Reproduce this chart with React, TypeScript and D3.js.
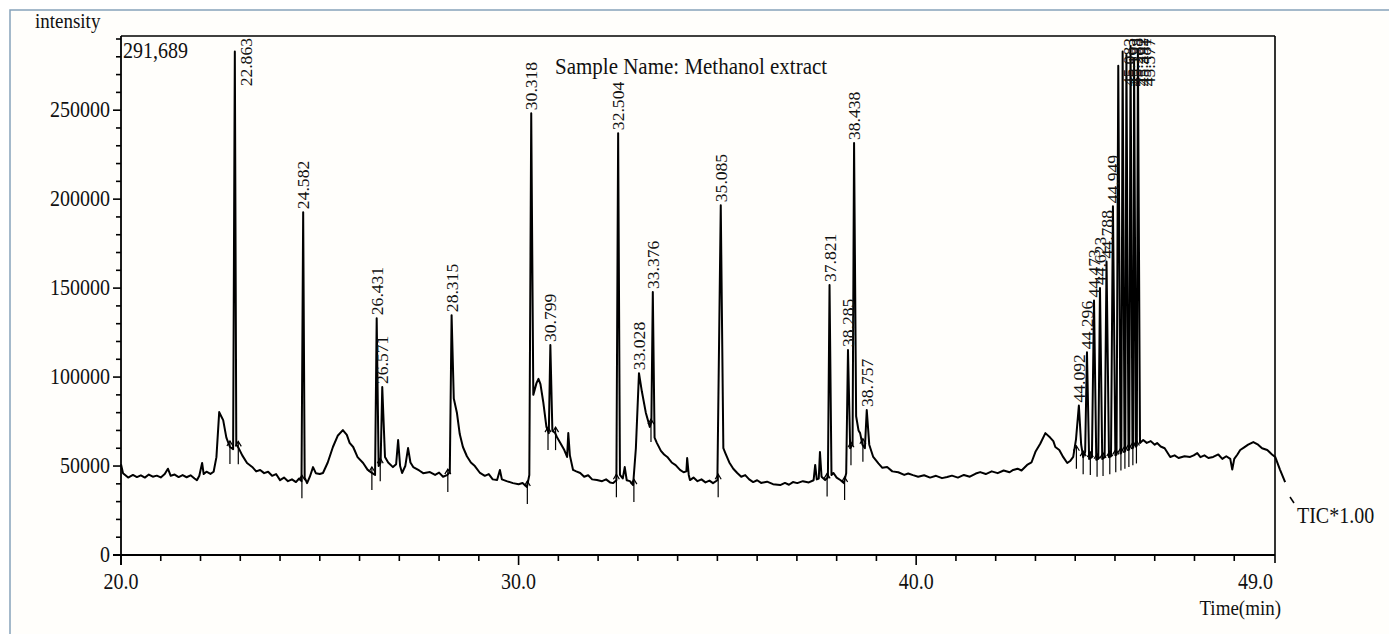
import React from "react";
import * as d3 from "d3";

// ---- Data ----
const yMax = 291689;
const xDomain: [number, number] = [20, 49];
const yTickMajor = [0, 50000, 100000, 150000, 200000, 250000];
const xTickMajor = [20, 30, 40];
const xTickLabels = ["20.0", "30.0", "40.0", "49.0"];
const xTickLabelValues = [20, 30, 40, 49];

// baseline / shoulder points of the TIC trace [time(min), intensity]
const baselineTrace: [number, number][] = [
  [20.0, 51000], [20.05, 46000], [20.18, 43500], [20.3, 45000], [20.4, 43800], [20.5, 44800],
  [20.6, 43500], [20.7, 45200], [20.8, 44000], [20.9, 44600], [21.0, 43600], [21.1, 45500],
  [21.18, 48500], [21.25, 44500], [21.35, 45200], [21.45, 43800], [21.55, 44900], [21.65, 43700],
  [21.75, 44800], [21.85, 43000], [21.91, 42000], [21.97, 44500], [22.04, 51700], [22.08, 45500],
  [22.15, 46800], [22.25, 45600], [22.33, 46800], [22.4, 55000], [22.47, 80300], [22.52, 78000],
  [22.57, 75800], [22.65, 66000], [22.74, 60700], [22.82, 59500],
  [22.9, 62000], [22.95, 60500], [23.05, 56000], [23.17, 51700], [23.3, 49500], [23.4, 47000],
  [23.5, 47800], [23.6, 46000], [23.7, 46800], [23.8, 44500], [23.9, 45500], [24.0, 42100],
  [24.1, 43500], [24.2, 41500], [24.3, 42500], [24.4, 41000], [24.48, 43000], [24.54, 41500],
  [24.62, 43500], [24.68, 40400], [24.75, 44000], [24.83, 49400], [24.9, 46000], [25.0, 45500],
  [25.08, 46100], [25.2, 52000], [25.33, 60700], [25.45, 67000], [25.58, 70200], [25.68, 67500],
  [25.75, 63000], [25.84, 60700], [25.95, 55000], [26.09, 51700], [26.2, 48000], [26.31, 46100],
  [26.39, 45000], [26.48, 50000], [26.53, 52000], [26.64, 55100], [26.72, 52000], [26.84, 49400],
  [26.92, 51000], [26.97, 64600], [27.02, 50000], [27.07, 46100], [27.15, 50000], [27.22, 60100],
  [27.28, 52000], [27.35, 49400], [27.5, 47500], [27.6, 46000], [27.77, 46600], [27.9, 45000],
  [28.0, 46300], [28.1, 44000], [28.2, 44900], [28.27, 46500],
  [28.37, 88000], [28.45, 79800], [28.52, 68000], [28.6, 60700], [28.7, 55500], [28.8, 52000],
  [28.9, 50000], [29.03, 46100], [29.15, 44500], [29.25, 45500], [29.35, 42500], [29.46, 42100],
  [29.53, 47800], [29.58, 42500], [29.7, 41500], [29.86, 40400], [30.0, 39800], [30.1, 40500],
  [30.21, 38200], [30.27, 45000],
  [30.37, 90000], [30.45, 96600], [30.5, 99000], [30.55, 96000], [30.62, 86000], [30.7, 72000],
  [30.76, 68500], [30.85, 70000], [30.92, 68500], [30.97, 66000], [31.05, 63000], [31.15, 59000],
  [31.22, 55100], [31.25, 68500], [31.29, 56000], [31.37, 47800], [31.45, 47000], [31.55, 46100],
  [31.65, 44000], [31.75, 44800], [31.85, 42500], [31.97, 42100], [32.1, 41500], [32.2, 42500],
  [32.3, 40800], [32.38, 40400], [32.46, 42000],
  [32.55, 45000], [32.62, 43000], [32.67, 49400], [32.72, 42000], [32.8, 41500], [32.88, 39300],
  [32.95, 60000], [33.1, 92000], [33.2, 80000], [33.3, 72000], [33.34, 75000],
  [33.42, 66000], [33.48, 62900], [33.58, 58500], [33.66, 56500], [33.74, 55100], [33.85, 52000],
  [33.95, 50500], [34.06, 47800], [34.15, 46500], [34.22, 47000], [34.24, 54500], [34.28, 45000],
  [34.31, 42100], [34.4, 43500], [34.5, 41500], [34.6, 42500], [34.7, 40800], [34.8, 41800],
  [34.89, 40400], [35.0, 42000],
  [35.15, 60000], [35.2, 57300], [35.3, 52000], [35.4, 48500], [35.5, 46100], [35.6, 44000],
  [35.7, 44900], [35.8, 42500], [35.9, 41000], [36.0, 42000], [36.1, 40500], [36.25, 41200],
  [36.4, 39800], [36.58, 39300], [36.7, 40500], [36.8, 39500], [36.9, 41000], [37.01, 40400],
  [37.15, 41500], [37.3, 40800], [37.42, 42000], [37.46, 50600], [37.5, 42500], [37.55, 43000],
  [37.58, 57900], [37.62, 44000], [37.71, 42100], [37.78, 43500],
  [37.87, 45000], [37.92, 46100], [38.0, 43500], [38.1, 42000], [38.18, 40400], [38.24, 46000],
  [38.34, 60000], [38.4, 62000],
  [38.49, 78000], [38.55, 70000], [38.59, 68500], [38.65, 62000], [38.71, 60000],
  [38.82, 62000], [38.92, 55100], [39.05, 51500], [39.15, 49000], [39.27, 49400], [39.4, 47000],
  [39.55, 46500], [39.7, 45000], [39.8, 45800], [39.92, 44900], [40.05, 44000], [40.2, 44800],
  [40.35, 43500], [40.5, 44500], [40.65, 43200], [40.78, 43800], [40.9, 44600], [41.05, 43500],
  [41.2, 45000], [41.35, 44000], [41.5, 45800], [41.61, 46600], [41.75, 45500], [41.9, 47000],
  [42.05, 46000], [42.2, 47500], [42.35, 46500], [42.44, 47800], [42.55, 48500], [42.65, 47500],
  [42.79, 50600], [42.9, 52000], [43.0, 58000], [43.12, 62500], [43.25, 68500], [43.37, 66000],
  [43.45, 64000], [43.5, 60700], [43.6, 59000], [43.7, 55000], [43.8, 51700], [43.88, 53000],
  [43.95, 55100], [44.02, 65000],
  [44.15, 62000], [44.2, 55000], [44.25, 58000], [44.35, 54000], [44.42, 55000],
  [44.53, 53500], [44.58, 54000], [44.68, 54000], [44.74, 55000], [44.85, 55000], [44.9, 55500],
  [45.01, 56000], [45.04, 56500], [45.14, 57000], [45.16, 57500], [45.24, 58000], [45.26, 58500],
  [45.34, 59000], [45.36, 59500], [45.44, 60000], [45.46, 60500], [45.53, 61000], [45.55, 61500],
  [45.63, 63000], [45.71, 64600], [45.8, 63000], [45.9, 64000], [46.0, 62000], [46.06, 62900],
  [46.15, 61000], [46.25, 60000], [46.39, 55100], [46.5, 56000], [46.6, 54500], [46.75, 55500],
  [46.89, 55100], [46.98, 56000], [47.07, 57300], [47.15, 55000], [47.25, 56000], [47.35, 54500],
  [47.47, 55100], [47.6, 56500], [47.7, 54000], [47.8, 55500], [47.9, 54000], [47.95, 48000],
  [48.0, 54000], [48.08, 56500], [48.15, 59000], [48.25, 60500], [48.35, 62000], [48.48, 63500],
  [48.6, 62000], [48.7, 60000], [48.83, 59000], [48.95, 56500], [49.03, 55100], [49.15, 48000],
  [49.28, 41000],
];

// labelled peaks: retention time (min) and apex intensity
const peakRT = [
  22.863, 24.582, 26.431, 26.571, 28.315, 30.318, 30.799, 32.504, 33.028, 33.376,
  35.085, 37.821, 38.285, 38.438, 38.757,
  44.092, 44.296, 44.473, 44.623, 44.788, 44.949, 45.083, 45.193, 45.288, 45.392, 45.481, 45.577,
];
const peakHeight = [
  283000, 192700, 133100, 94400, 134800, 248300, 118000, 237100, 102200, 147800,
  196600, 151700, 115200, 231500, 81500,
  84000, 114000, 143000, 150000, 165000, 196000, 275000, 283000, 281000, 286000, 279000, 284000,
];

// integration start/end markers [time, intensity at marker]
const markerRT = [
  22.74, 22.95, 24.55, 26.31, 26.52, 28.22, 30.22, 30.74, 30.93, 32.46, 32.9, 33.33, 35.02,
  37.76, 38.2, 38.36, 38.66, 44.03, 44.2, 44.38, 44.55, 44.7, 44.87, 45.02, 45.15, 45.25,
  45.35, 45.45, 45.54,
];
const markerIntensity = [
  60700, 60500, 41500, 46100, 51000, 44900, 38200, 68500, 68500, 42000, 39300, 73000, 42000,
  42500, 40500, 60000, 62000, 58000, 55000, 54500, 53500, 54000, 55000, 56000, 57000, 58000,
  59000, 60000, 61000,
];

const FONT = "'Liberation Serif', 'Times New Roman', serif";

function T(props: { x: number; y: number; size: number; anchor?: string; children: React.ReactNode }) {
  return (
    <text
      transform={`translate(${props.x},${props.y}) scale(1,1.12)`}
      textAnchor={props.anchor || "start"}
      fontSize={props.size}
      fill="#111"
    >
      {props.children}
    </text>
  );
}

export default function App() {
  const W = 1389;
  const H = 634;
  const left = 121, right = 1274, top = 36, bottom = 555;
  const x = d3.scaleLinear().domain(xDomain).range([left, right]);
  const y = d3.scaleLinear().domain([0, yMax]).range([bottom, top]);

  const trace: [number, number][] = baselineTrace
    .concat(peakRT.map((t, i) => [t, peakHeight[i]] as [number, number]))
    .sort((a, b) => a[0] - b[0]);
  const line = d3
    .line<[number, number]>()
    .x((d) => x(d[0]))
    .y((d) => y(d[1]));

  const xMinor = d3.range(21, 49, 1).filter((v) => !xTickMajor.includes(v));
  const yMinor = d3.range(0, yMax, 10000).filter((v) => !yTickMajor.includes(v));

  const labelSize = 16;
  const labelLen = 2.75 * labelSize * 1.1;

  return (
    <svg
      width={W}
      height={H}
      style={{ position: "absolute", left: 0, top: 0, display: "block", background: "#ffffff" }}
      fontFamily={FONT}
    >
      <rect x={10} y={10} width={1420} height={700} fill="#fffefb" stroke="#86a3ba" strokeWidth={1.5} />

      {/* plot frame */}
      <line x1={left} x2={right + 1} y1={top} y2={top} stroke="#000" strokeWidth={1.6} />
      <line x1={right + 1} x2={right + 1} y1={top} y2={bottom + 8} stroke="#000" strokeWidth={1.6} />
      <line x1={left} x2={left} y1={top} y2={bottom + 10} stroke="#000" strokeWidth={1.8} />
      <line x1={left - 8} x2={right + 1} y1={bottom} y2={bottom} stroke="#000" strokeWidth={1.8} />

      {/* y ticks */}
      {yTickMajor.map((v) => (
        <g key={"ym" + v}>
          <line x1={left - 8} x2={left} y1={y(v)} y2={y(v)} stroke="#000" strokeWidth={1.6} />
          <T x={110} y={y(v) + 7} size={20} anchor="end">
            {v}
          </T>
        </g>
      ))}
      {yMinor.map((v) => (
        <line key={"yn" + v} x1={left - 5} x2={left} y1={y(v)} y2={y(v)} stroke="#000" strokeWidth={1.6} />
      ))}

      {/* x ticks */}
      {xTickMajor.map((v) => (
        <line key={"xm" + v} x1={x(v)} x2={x(v)} y1={bottom} y2={bottom + 10} stroke="#000" strokeWidth={1.6} />
      ))}
      {xMinor.map((v) => (
        <line key={"xn" + v} x1={x(v)} x2={x(v)} y1={bottom} y2={bottom + 6} stroke="#000" strokeWidth={1.6} />
      ))}
      {xTickLabelValues.map((v, i) => (
        <T key={"xl" + v} x={i === 3 ? x(v) - 1 : x(v)} y={589} size={20} anchor={i === 3 ? "end" : "middle"}>
          {xTickLabels[i]}
        </T>
      ))}

      {/* integration markers */}
      {markerRT.map((t, i) => {
        const mx = x(t);
        const my = y(markerIntensity[i]);
        return (
          <g key={"mk" + i} stroke="#000" strokeWidth={1.2} fill="none">
            <line x1={mx} x2={mx} y1={my - 6} y2={my + 17} />
            <polyline points={`${mx - 3},${my - 1} ${mx},${my - 6} ${mx + 3},${my - 1}`} />
          </g>
        );
      })}

      {/* TIC trace */}
      <path d={line(trace) || ""} fill="none" stroke="#000" strokeWidth={2} strokeLinejoin="round" />

      {/* peak labels */}
      {peakRT.map((t, i) => {
        const px = x(t);
        const py = y(peakHeight[i]);
        const clipped = py - 3 - labelLen < top + 1;
        const ax = clipped ? px + 17 : px + 6;
        const ay = clipped ? top + 2 : py - 3;
        return (
          <text
            key={"pl" + i}
            transform={`translate(${ax},${ay}) rotate(-90) scale(1.1,1)`}
            textAnchor={clipped ? "end" : "start"}
            fontSize={labelSize}
            fill="#111"
          >
            {t.toFixed(3)}
          </text>
        );
      })}

      {/* texts */}
      <T x={35} y={28} size={19}>intensity</T>
      <T x={123} y={58} size={20}>291,689</T>
      <T x={555} y={74} size={21}>Sample Name: Methanol extract</T>
      <T x={1281} y={615} size={19} anchor="end">Time(min)</T>
      <line x1={1290} x2={1294} y1={497} y2={503} stroke="#000" strokeWidth={1.5} />
      <T x={1297} y={523} size={20}>TIC*1.00</T>
    </svg>
  );
}
